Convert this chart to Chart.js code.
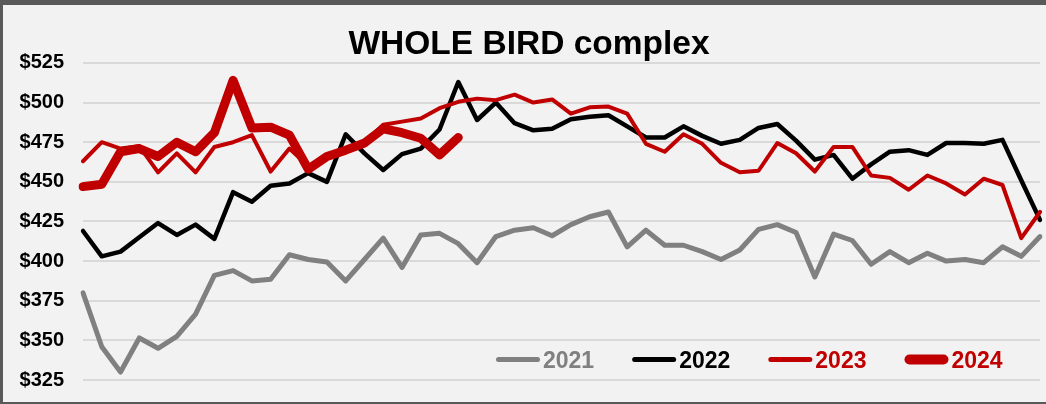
<!DOCTYPE html>
<html><head><meta charset="utf-8">
<script src="https://cdn.jsdelivr.net/npm/chart.js@4"></script>
<style>
html,body{margin:0;padding:0;background:#595959;}
#wrap{position:relative;width:1046px;height:404px;background:#595959;overflow:hidden;}
#panel{position:absolute;left:3px;top:5px;width:1043px;height:397px;background:#f2f2f2;}
#c{position:absolute;left:0;top:0;}
</style></head><body>
<div id="wrap"><div id="panel"></div><canvas id="c" width="1046" height="404"></canvas></div>
<script>
const FONT = '"Liberation Sans", Arial, sans-serif';
const weeks = [1,2,3,4,5,6,7,8,9,10,11,12,13,14,15,16,17,18,19,20,21,22,23,24,25,26,27,28,29,30,31,32,33,34,35,36,37,38,39,40,41,42,43,44,45,46,47,48,49,50,51,52];
const y2021 = [380,346,330,351.5,345,352.5,366.5,391,394,387.5,388.5,404,401,399.5,387.5,401,414.5,396,416.5,417.5,411,399,415.5,419.5,421,416,423,428,431,409,419.5,410,410,406,401,407,420,423,418,390,417,413,398,406,399,405,400,401,399,409,403,415.5];
const y2022 = [419,403,406,415,424,416.5,423,414,443.5,437.5,447.5,449,455.5,450,480,468,457.5,467.5,471,483,513,489,500,487,482.5,483.5,489.5,491,492,485,478,478,485,479,474,476.5,484,486.5,476,464,467,452,461,469,470,467,474.5,474.5,474,476.5,451,426];
const y2023 = [463,475,471,472.5,456,468,456,472,475,479.5,456.5,471,460,466,470,475,486,488,490,496.5,500.5,502.5,501.5,505,500,502,493,497,497.5,493,474,469,480,474,462,456,457,474.5,468,456.5,472,472,454,452.5,445,454,449,442,452,448,414.5,431];
const y2024 = [447,448.5,469,471,466,475,469,481,514,484,484.5,479.5,458,466,470,474.5,483.5,481,477.5,467,478];
const yTicks = [325,350,375,400,425,450,475,500,525];

const legendPlugin = {
  id: 'manualLegend',
  afterDraw(chart) {
    const ctx = chart.ctx;
    ctx.save();
    ctx.font = 'bold 23px ' + FONT;
    ctx.textBaseline = 'alphabetic';
    ctx.textAlign = 'left';
    let x = 496;
    const yLine = 359.5, yText = 368;
    const items = chart.data.datasets.slice().sort((a, b) => a.label.localeCompare(b.label));
    items.forEach(ds => {
      const lw = ds.legendWidth;
      ctx.strokeStyle = ds.borderColor;
      ctx.lineWidth = lw;
      ctx.lineCap = 'round';
      ctx.beginPath();
      ctx.moveTo(x + lw / 2, yLine);
      ctx.lineTo(x + 44 - lw / 2, yLine);
      ctx.stroke();
      ctx.fillStyle = ds.borderColor;
      const tx = x + 47;
      ctx.fillText(ds.label, tx, yText);
      x = tx + ctx.measureText(ds.label).width + 38;
    });
    ctx.restore();
  }
};

const common = {pointRadius: 0, tension: 0, borderCapStyle: 'round', borderJoinStyle: 'round', fill: false};

new Chart(document.getElementById('c'), {
  type: 'line',
  data: {
    labels: weeks,
    datasets: [
      Object.assign({label: '2021', data: y2021, borderColor: '#808080', borderWidth: 5, legendWidth: 5, order: 3}, common),
      Object.assign({label: '2022', data: y2022, borderColor: '#000000', borderWidth: 4.5, legendWidth: 5, order: 2}, common),
      Object.assign({label: '2023', data: y2023, borderColor: '#c00000', borderWidth: 4, legendWidth: 5, order: 1}, common),
      Object.assign({label: '2024', data: y2024, borderColor: '#c00000', borderWidth: 9, legendWidth: 10, order: 0}, common)
    ]
  },
  options: {
    responsive: false,
    animation: false,
    layout: {padding: {left: 18, right: 6, top: 26.1, bottom: 24}},
    plugins: {
      legend: {display: false},
      tooltip: {enabled: false},
      title: {
        display: true,
        text: 'WHOLE BIRD complex',
        color: '#000',
        font: {family: FONT, size: 33.5, weight: 'bold', lineHeight: 1.1},
        padding: {top: 0, bottom: 0}
      }
    },
    scales: {
      x: {type: 'category', display: false, offset: false},
      y: {
        min: yTicks[0], max: yTicks[yTicks.length - 1],
        afterFit(s) { s.width = 65; s.paddingTop = 0; s.paddingBottom = 0; },
        afterBuildTicks(s) { s.ticks = yTicks.map(v => ({value: v})); },
        border: {display: false},
        grid: {color: '#d9d9d9', lineWidth: 2, drawTicks: false},
        ticks: {padding: 19, color: '#000', font: {family: FONT, size: 20, weight: 'bold'}, callback: v => '$' + v}
      }
    }
  },
  plugins: [legendPlugin]
});
</script>
</body></html>
